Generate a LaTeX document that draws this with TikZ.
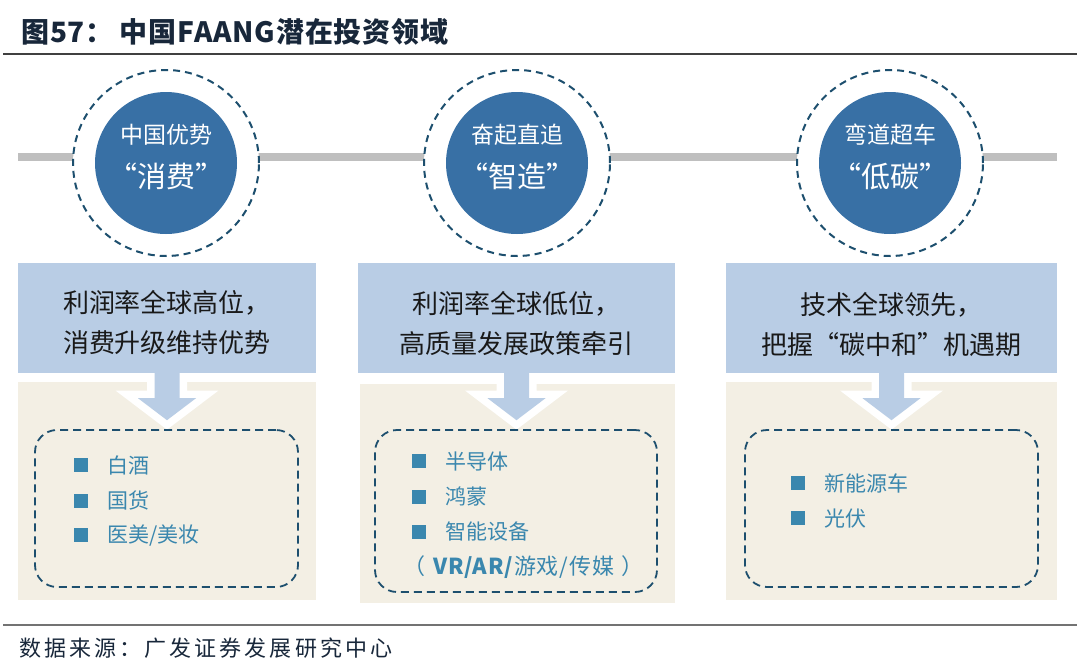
\documentclass[tikz,border=0pt]{standalone}
\usepackage{fontspec}
\setmainfont{Noto Sans CJK SC}
\usetikzlibrary{positioning}
\definecolor{navy}{HTML}{1D4F6E}
\definecolor{discblue}{HTML}{3870A5}
\definecolor{sky}{HTML}{B9CDE5}
\definecolor{sand}{HTML}{F3EFE4}
\definecolor{itemblue}{HTML}{3A87AE}
\definecolor{rail}{HTML}{BFBFBF}
\definecolor{ink}{HTML}{18273A}
\newcommand\sq{\textcolor{itemblue}{\rule[1pt]{14pt}{14pt}}\hspace{19pt}}
\newcommand\pointer[1]{%
  \draw[white, line width=15pt, line join=miter] ([xshift=-12.5pt,yshift=-1pt]#1.south) -- ++(0,24) -- ++(-16.5,0) -- ++(29,22) -- ++(29,-22) -- ++(-16.5,0) -- ++(0,-24);
  \fill[sky] ([xshift=-12.5pt,yshift=2pt]#1.south) -- ++(0,27) -- ++(-16.5,0) -- ++(29,22) -- ++(29,-22) -- ++(-16.5,0) -- ++(0,-27) -- cycle;}

\begin{document}
\begin{tikzpicture}[x=1pt, y=-1pt, node distance=35.5pt,
  ring/.style={circle, draw=navy, line width=2pt, dash pattern=on 7pt off 5pt, fill=white, minimum size=186pt, inner sep=0pt},
  core/.style={circle, fill=discblue, minimum size=142pt, inner sep=0pt},
  caption/.style={text=white, inner sep=0pt},
  topbox/.style={fill=sky, minimum height=110pt, inner sep=0pt},
  lowbox/.style={fill=sand, inner sep=0pt},
  list/.style={draw=navy, line width=1.8pt, dash pattern=on 8pt off 5pt, rounded corners=22pt, inner sep=0pt},
  head/.style={align=center, font=\fontsize{26}{40}\selectfont, text=black!90},
  item/.style={anchor=west, inner sep=0pt, font=\fontsize{21}{24}\selectfont, text=itemblue}]
\useasboundingbox (0,0) rectangle (1080,672);

\node (title) [anchor=west, inner sep=0pt, text=ink, font=\fontsize{28}{30}\selectfont\bfseries\addfontfeature{LetterSpace=3}] at (21,32) {图57：\hspace{6pt}中国FAANG潜在投资领域};
\draw[line width=2pt, draw=black!75] (3,54) -- (1077,54);
\draw[line width=2.5pt, draw=black!55] (3,625) -- (1077,625);
\node (src) [anchor=west, inner sep=0pt, text=ink, font=\fontsize{22}{24}\selectfont\addfontfeature{LetterSpace=14}] at (19,648) {数据来源：广发证券发展研究中心};

\draw[line width=8pt, draw=rail] (18,157) -- (1057,157);

\node (r1)[ring] at (166,163) {};
\node (r2)[ring] at (517,163) {};
\node (r3)[ring] at (890,163) {};
\node (c1)[core] at (r1) {};
\node (c2)[core] at (r2) {};
\node (c3)[core] at (r3) {};
\node (h1)[caption, font=\fontsize{23}{26}\selectfont] at ([yshift=28pt]c1.center) {中国优势};
\node (h2)[caption, font=\fontsize{23}{26}\selectfont] at ([yshift=28pt]c2.center) {奋起直追};
\node (h3)[caption, font=\fontsize{23}{26}\selectfont] at ([yshift=28pt]c3.center) {弯道超车};
\node (q1)[caption, font=\fontsize{29}{32}\selectfont] at ([yshift=-13pt]c1.center) {“消费”};
\node (q2)[caption, font=\fontsize{29}{32}\selectfont] at ([yshift=-13pt]c2.center) {“智造”};
\node (q3)[caption, font=\fontsize{29}{32}\selectfont] at ([yshift=-13pt]c3.center) {“低碳”};

\node (b1)[lowbox, minimum width=298pt, minimum height=218pt] at (167,491) {};
\node (b2)[lowbox, minimum width=315pt, minimum height=219pt] at (517.5,493.5) {};
\node (b3)[lowbox, minimum width=331pt, minimum height=218pt] at (891.5,491) {};
\node (t1)[topbox, minimum width=298pt] at (167,318) {};
\node (t2)[topbox, minimum width=317pt] at (516.5,318) {};
\node (t3)[topbox, minimum width=331pt] at (891.5,318) {};
\node (x1)[head] at ([yshift=-4pt]t1.center) {利润率全球高位，\\消费升级维持优势};
\node (x2)[head] at ([yshift=-6pt]t2.center) {利润率全球低位，\\高质量发展政策牵引};
\node (x3)[head] at ([yshift=-7pt]t3.center) {技术全球领先，\\把握“碳中和”机遇期};

\pointer{t1}
\pointer{t2}
\pointer{t3}

\node (l1)[list, minimum width=263pt, minimum height=157pt] at (166.5,508.5) {};
\node (l2)[list, minimum width=282pt, minimum height=162pt] at (516,511) {};
\node (l3)[list, minimum width=293pt, minimum height=157pt] at (891.5,508.5) {};

\node (i1)[item] at (74,465) {\sq 白酒};
\node (i2)[item, below=of i1.west, anchor=west] {\sq 国货};
\node (i3)[item, below=of i2.west, anchor=west] {\sq 医美/美妆};
\node (i4)[item] at (412,461) {\sq 半导体};
\node (i5)[item, below=of i4.west, anchor=west] {\sq 鸿蒙};
\node (i6)[item, below=of i5.west, anchor=west] {\sq 智能设备};
\node (i7)[item, below=of i6.west, anchor=west, xshift=-9pt, font=\fontsize{22}{24}\selectfont\addfontfeature{LetterSpace=4}] {（\hspace{7pt}\textbf{VR/AR/}游戏/传媒\hspace{7pt}）};
\node (i8)[item] at (791,483) {\sq 新能源车};
\node (i9)[item, below=of i8.west, anchor=west] {\sq 光伏};
\end{tikzpicture}
\end{document}
